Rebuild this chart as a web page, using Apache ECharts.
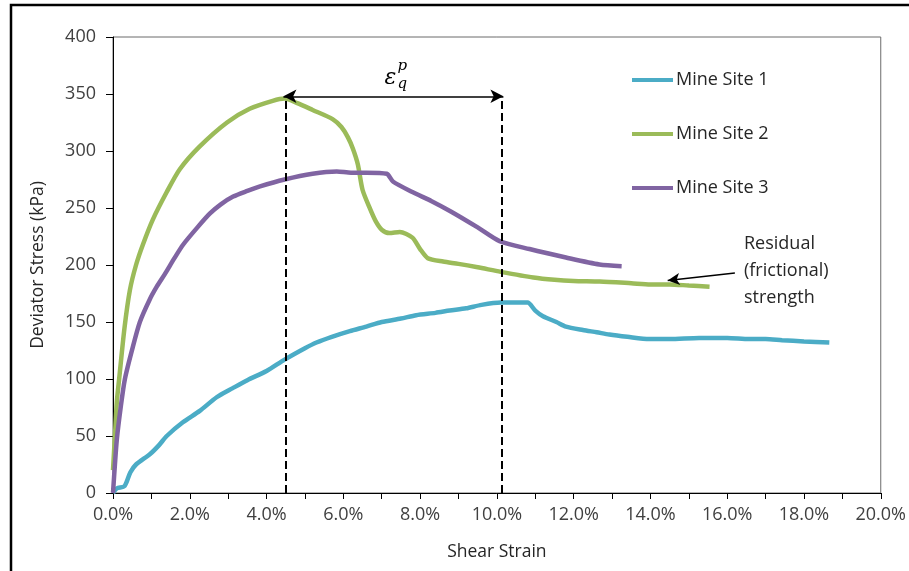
<!DOCTYPE html>
<html>
<head>
<meta charset="utf-8">
<script src="https://cdn.jsdelivr.net/npm/echarts@6/dist/echarts.min.js"></script>
<style>
  html, body { margin: 0; padding: 0; background: #fff; }
  #main { width: 909px; height: 571px; }
</style>
</head>
<body>
<div id="main"></div>
<script>
// Shear strain (%) and deviator stress (kPa) for each site
const site1Strain = [0, 0.1, 0.3, 0.45, 0.6, 0.96, 1.2, 1.4, 1.82, 2.26, 2.7, 3.12, 3.5, 4.0, 4.47, 5.0, 5.3, 5.7, 6.17, 6.6, 7.0, 7.5, 7.9, 8.4, 8.77, 9.2, 9.6, 10.1, 10.5, 10.8, 11.0, 11.2, 11.55, 11.8, 12.24, 12.6, 12.93, 13.4, 13.97, 14.5, 15.27, 16.0, 16.57, 17.0, 17.43, 18.0, 18.66];
const site1Stress = [0, 4, 6, 18, 25, 34, 42, 50, 62, 72, 84, 92, 99, 107, 117, 127, 132, 137, 142, 146, 150, 153, 156, 158, 160, 162, 165, 167, 167, 167, 160, 155, 150, 146, 143, 141, 139, 137, 135, 135, 136, 136, 135, 135, 134, 133, 132];

const site2Strain = [0, 0.05, 0.1, 0.16, 0.3, 0.44, 0.6, 0.78, 1.04, 1.4, 1.74, 2.26, 2.97, 3.56, 4.16, 4.47, 4.8, 5.2, 5.72, 5.95, 6.12, 6.25, 6.38, 6.5, 6.7, 6.85, 7.0, 7.2, 7.47, 7.8, 8.0, 8.2, 8.6, 9.0, 9.5, 10.1, 10.95, 11.5, 12.0, 12.68, 13.5, 14.0, 14.5, 15.0, 15.54];
const site2Stress = [20, 50, 80, 100, 145, 178, 200, 218, 240, 264, 284, 304, 325, 337, 344, 346, 342, 336, 328, 321, 312, 302, 288, 266, 249, 238, 231, 228, 229, 224, 214, 206, 203, 201, 198, 194, 189, 187, 186, 185.5, 184, 183, 183, 182, 181];

const site3Strain = [0, 0.05, 0.1, 0.2, 0.31, 0.5, 0.7, 0.96, 1.14, 1.35, 1.6, 1.83, 2.2, 2.52, 2.8, 3.13, 3.5, 3.83, 4.47, 5.2, 5.83, 6.2, 6.6, 7.13, 7.3, 7.8, 8.3, 8.8, 9.5, 10.07, 10.85, 11.8, 12.67, 13.25];
const site3Stress = [0, 25, 47, 75, 100, 126, 150, 170, 181, 192, 206, 218, 233, 245, 253, 260, 265, 269, 275, 280, 282, 281, 281, 280, 273, 264, 256, 247, 233, 221, 214, 206.6, 200.5, 199];

const seriesNames = ['Mine Site 1', 'Mine Site 2', 'Mine Site 3'];
const seriesColors = ['#4BACC6', '#9BBB59', '#8064A2'];

// Strain at peak and at the start of softening, and the height of the bracket arrow
const peakStrains = [4.49, 10.12];
const bracketStress = 348;
// Residual-strength pointer: tail and head (strain %, kPa)
const residualTail = [16.2, 193];
const residualHead = [14.45, 186.5];

const xTicks = { min: 0, max: 20, step: 2 };
const yTicks = { min: 0, max: 400, step: 50 };

const FONT = 'Open Sans';
const pair = (xs, ys) => xs.map((x, i) => [x, ys[i]]);

const chart = echarts.init(document.getElementById('main'), null, { renderer: 'canvas' });

const dashed = { type: [8, 4], color: '#000', width: 2 };
const curveWidth = 4.5;

chart.setOption({
  animation: false,
  backgroundColor: '#fff',
  grid: { left: 113, top: 37, right: 27, bottom: 78, show: true, borderColor: '#6b6b6b', borderWidth: 1, backgroundColor: 'transparent' },
  legend: {
    data: seriesNames.map(n => ({ name: n, icon: 'rect' })),
    orient: 'vertical',
    left: 627, top: 65,
    itemWidth: 41, itemHeight: 4, itemGap: 34,
    textStyle: { fontFamily: FONT, fontSize: 18, color: '#262626', lineHeight: 20, padding: [0, 0, 0, -2] }
  },
  xAxis: {
    type: 'value', min: xTicks.min, max: xTicks.max, interval: xTicks.step,
    name: 'Shear Strain', nameLocation: 'middle', nameGap: 50,
    nameTextStyle: { fontFamily: FONT, fontSize: 17.5, color: '#262626' },
    axisLine: { show: true, onZero: false, lineStyle: { color: '#000', width: 1 } },
    axisTick: { show: true, inside: false, length: 6, lineStyle: { color: '#000' } },
    minorTick: { show: true, splitNumber: 2, length: 6, lineStyle: { color: '#000' } },
    splitLine: { show: false },
    axisLabel: { fontFamily: FONT, fontSize: 18, color: '#404040', margin: 13, formatter: v => v.toFixed(1) + '%' }
  },
  yAxis: {
    type: 'value', min: yTicks.min, max: yTicks.max, interval: yTicks.step,
    name: 'Deviator Stress (kPa)', nameLocation: 'middle', nameGap: 66, nameRotate: 90,
    nameTextStyle: { fontFamily: FONT, fontSize: 17.5, color: '#262626' },
    axisLine: { show: true, lineStyle: { color: '#000', width: 1 } },
    axisTick: { show: true, inside: false, length: 7, lineStyle: { color: '#000' } },
    splitLine: { show: false },
    axisLabel: { fontFamily: FONT, fontSize: 18, color: '#404040', margin: 17 }
  },
  series: [
    { name: seriesNames[0], type: 'line', data: pair(site1Strain, site1Stress), showSymbol: false, smooth: 0.25, lineStyle: { width: curveWidth, color: seriesColors[0] }, itemStyle: { color: seriesColors[0] }, z: 3 },
    { name: seriesNames[1], type: 'line', data: pair(site2Strain, site2Stress), showSymbol: false, smooth: 0.25, lineStyle: { width: curveWidth, color: seriesColors[1] }, itemStyle: { color: seriesColors[1] }, z: 3 },
    { name: seriesNames[2], type: 'line', data: pair(site3Strain, site3Stress), showSymbol: false, smooth: 0.25, lineStyle: { width: curveWidth, color: seriesColors[2] }, itemStyle: { color: seriesColors[2] }, z: 3 },
    {
      name: 'annotations', type: 'line', data: [], z: 5,
      markLine: {
        silent: true, animation: false, label: { show: false },
        data: [
          [{ coord: [peakStrains[0], 0], symbol: 'none', lineStyle: dashed }, { coord: [peakStrains[0], bracketStress], symbol: 'none' }],
          [{ coord: [peakStrains[1], 0], symbol: 'none', lineStyle: dashed }, { coord: [peakStrains[1], bracketStress], symbol: 'none' }],
          [{ coord: [peakStrains[0] - 0.05, bracketStress], symbol: 'arrow', symbolSize: [10, 13], lineStyle: { type: 'solid', color: '#000', width: 1.5 } },
           { coord: [peakStrains[1] + 0.05, bracketStress], symbol: 'arrow', symbolSize: [10, 13] }],
          [{ coord: residualTail, symbol: 'none', lineStyle: { type: 'solid', color: '#000', width: 1.5 } },
           { coord: residualHead, symbol: 'arrow', symbolSize: [9, 12] }]
        ]
      }
    }
  ]
});

// Labels placed relative to the bracket arrow
const mid = chart.convertToPixel({ gridIndex: 0 }, [(peakStrains[0] + peakStrains[1]) / 2, bracketStress]);
chart.setOption({
  graphic: [
    { type: 'polyline', shape: { points: [[11, 571], [11, 5], [909, 5]] }, style: { stroke: '#000', lineWidth: 2.5, fill: null }, silent: true },
    { type: 'text', x: mid[0] - 3, y: mid[1] - 18, style: { text: 'ε', font: 'italic 22px "DejaVu Serif"', fill: '#000', align: 'center', verticalAlign: 'middle' } },
    { type: 'text', x: mid[0] + 9, y: mid[1] - 30, style: { text: 'p', font: 'italic 15px "DejaVu Serif"', fill: '#000', align: 'center', verticalAlign: 'middle' } },
    { type: 'text', x: mid[0] + 9, y: mid[1] - 12, style: { text: 'q', font: 'italic 15px "DejaVu Serif"', fill: '#000', align: 'center', verticalAlign: 'middle' } },
    { type: 'text', left: 744, top: 230, style: { text: 'Residual\n(frictional)\nstrength', font: '18px "Open Sans"', lineHeight: 27, fill: '#262626' } }
  ]
});
</script>
</body>
</html>
